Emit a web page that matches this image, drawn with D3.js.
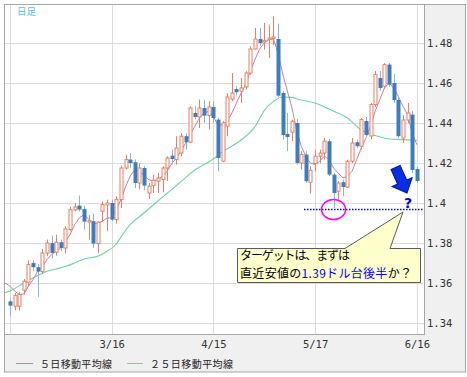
<!DOCTYPE html>
<html><head><meta charset="utf-8">
<script src="https://cdn.jsdelivr.net/npm/d3@7"></script>
<style>
html,body{margin:0;padding:0;background:#fff;}
svg{display:block;}
</style></head><body>
<svg id="c" width="467" height="377"></svg>
<script>
// ---- data (daily candles) ----
const dates = ["2/14","2/15","2/16","2/17","2/18","2/21","2/22","2/23","2/24","2/25","2/28",
"3/1","3/2","3/3","3/4","3/7","3/8","3/9","3/10","3/11","3/14","3/15",
"3/16","3/17","3/18","3/21","3/22","3/23","3/24","3/25","3/28","3/29","3/30","3/31",
"4/1","4/4","4/5","4/6","4/7","4/8","4/11","4/12","4/13","4/14",
"4/15","4/18","4/19","4/20","4/21","4/22","4/25","4/26","4/27","4/28","4/29",
"5/2","5/3","5/4","5/5","5/6","5/9","5/10","5/11","5/12","5/13","5/16",
"5/17","5/18","5/19","5/20","5/23","5/24","5/25","5/26","5/27","5/30","5/31",
"6/1","6/2","6/3","6/6","6/7","6/8","6/9","6/10","6/13","6/14","6/15","6/16"];
const open  = [1.3508,1.3484,1.3484,1.3564,1.3604,1.3700,1.3679,1.3657,1.3750,1.3800,1.3754,
1.3804,1.3775,1.3867,1.3965,1.3987,1.3970,1.3905,1.3909,1.3797,1.3959,1.3990,
1.4000,1.3917,1.4017,1.4175,1.4217,1.4204,1.4100,1.4175,1.4050,1.4087,1.4109,1.4117,
1.4175,1.4237,1.4217,1.4250,1.4334,1.4304,1.4450,1.4430,1.4475,1.4437,
1.4480,1.4417,1.4209,1.4384,1.4520,1.4570,1.4559,1.4580,1.4650,1.4770,1.4820,
1.4805,1.4817,1.4822,1.4820,1.4550,1.4345,1.4354,1.4400,1.4200,1.4242,1.4104,
1.4197,1.4234,1.4250,1.4309,1.4142,1.4059,1.4104,1.4080,1.4209,1.4304,1.4284,
1.4410,1.4335,1.4492,1.4625,1.4584,1.4692,1.4600,1.4515,1.4325,1.4415,1.4442,1.4170];
const high  = [1.3517,1.3550,1.3554,1.3620,1.3714,1.3714,1.3695,1.3770,1.3817,1.3837,1.3842,
1.3817,1.3884,1.3980,1.4000,1.4037,1.3987,1.3940,1.3947,1.3909,1.4009,1.4017,
1.4017,1.4034,1.4187,1.4242,1.4250,1.4217,1.4200,1.4184,1.4100,1.4142,1.4150,1.4184,
1.4234,1.4267,1.4334,1.4350,1.4347,1.4484,1.4484,1.4517,1.4517,1.4509,
1.4509,1.4425,1.4409,1.4550,1.4650,1.4584,1.4625,1.4659,1.4784,1.4875,1.4875,
1.4900,1.4892,1.4934,1.4897,1.4560,1.4450,1.4417,1.4420,1.4259,1.4259,1.4184,
1.4267,1.4267,1.4325,1.4320,1.4150,1.4109,1.4117,1.4217,1.4325,1.4317,1.4425,
1.4430,1.4500,1.4660,1.4660,1.4700,1.4700,1.4645,1.4525,1.4440,1.4500,1.4460,1.4180];
const low   = [1.3434,1.3464,1.3462,1.3542,1.3584,1.3659,1.3530,1.3647,1.3734,1.3724,1.3737,
1.3759,1.3747,1.3859,1.3959,1.3957,1.3867,1.3817,1.3775,1.3750,1.3904,1.3859,
1.3909,1.3897,1.3975,1.4167,1.4175,1.4075,1.4067,1.4064,1.4020,1.4050,1.4050,1.4054,
1.4110,1.4192,1.4192,1.4234,1.4267,1.4300,1.4417,1.4375,1.4400,1.4367,
1.4400,1.4159,1.4204,1.4334,1.4509,1.4537,1.4500,1.4567,1.4642,1.4767,1.4787,
1.4767,1.4725,1.4790,1.4530,1.4317,1.4260,1.4309,1.4192,1.4167,1.4100,1.4047,
1.4159,1.4200,1.4217,1.4134,1.3975,1.4017,1.4034,1.4075,1.4200,1.4275,1.4267,
1.4330,1.4320,1.4480,1.4560,1.4570,1.4580,1.4500,1.4325,1.4300,1.4400,1.4150,1.4100];
const close = [1.3487,1.3537,1.3542,1.3609,1.3692,1.3679,1.3657,1.3750,1.3800,1.3750,1.3804,
1.3775,1.3870,1.3967,1.3980,1.3967,1.3907,1.3912,1.3797,1.3904,1.3992,1.4000,
1.3917,1.4017,1.4175,1.4217,1.4200,1.4100,1.4175,1.4087,1.4084,1.4114,1.4125,1.4175,
1.4225,1.4220,1.4275,1.4334,1.4304,1.4475,1.4430,1.4475,1.4437,1.4480,
1.4425,1.4225,1.4400,1.4530,1.4550,1.4554,1.4575,1.4650,1.4770,1.4820,1.4800,
1.4812,1.4825,1.4830,1.4537,1.4340,1.4330,1.4409,1.4200,1.4242,1.4109,1.4164,
1.4234,1.4250,1.4309,1.4142,1.4050,1.4100,1.4080,1.4209,1.4300,1.4284,1.4417,
1.4340,1.4492,1.4642,1.4575,1.4692,1.4592,1.4515,1.4334,1.4415,1.4450,1.4165,1.4110];
// 5-day moving average, one value per date
const ma5Lead = 1.3604; // where the pink line enters at the left edge
const ma5 = [1.3584,1.3560,1.3542,1.3545,1.3584,1.3617,1.3659,1.3680,1.3717,1.3742,1.3759,
1.3775,1.3809,1.3842,1.3892,1.3925,1.3942,1.3920,1.3900,1.3897,1.3909,1.3925,
1.3925,1.3967,1.4017,1.4080,1.4134,1.4167,1.4159,1.4137,1.4117,1.4109,1.4117,1.4134,
1.4159,1.4197,1.4225,1.4259,1.4300,1.4342,1.4384,1.4425,1.4450,1.4459,
1.4434,1.4387,1.4392,1.4409,1.4450,1.4500,1.4550,1.4592,1.4659,1.4717,1.4770,
1.4800,1.4817,1.4820,1.4750,1.4645,1.4560,1.4475,1.4367,1.4284,1.4234,1.4200,
1.4192,1.4209,1.4234,1.4217,1.4175,1.4150,1.4125,1.4134,1.4159,1.4217,1.4275,
1.4325,1.4384,1.4459,1.4517,1.4575,1.4600,1.4575,1.4534,1.4484,1.4442,1.4350,1.4292];
// 25-day moving average (position in trading days, value)
const ma25Pos = [-1.3,0,3,6,8,10,12,14,16,19,21,23,24,26,29,32,35,37,40,44,46,50,53,55,57,59,61,63,66,70,73,76,79,82,85,88];
const ma25Val = [1.3550,1.3560,1.3600,1.3637,1.3659,1.3670,1.3682,1.3700,1.3720,1.3734,1.3759,1.3795,1.3830,1.3892,1.3950,1.4010,1.4068,1.4107,1.4165,1.4220,1.4257,1.4315,1.4382,1.4462,1.4508,1.4530,1.4528,1.4515,1.4500,1.4459,1.4425,1.4365,1.4337,1.4320,1.4317,1.4313];
const yTicks = [1.34,1.36,1.38,1.40,1.42,1.44,1.46,1.48];
const gridDates = ["2/14","3/16","4/15","5/17","6/16"];
const labelDates = ["3/16","4/15","5/17","6/16"];
const targetLevel = 1.3970;   // dotted target line
const lowDate = "5/23";       // circled low

// ---- layout ----
const svg = d3.select("#c");
const L = 4, R = 424, T = 4, B = 334;
const x = d3.scaleLinear().domain([-1.283, 89.556]).range([L, R]);
const y = d3.scaleLinear().domain([1.3345, 1.4995]).range([B, T]);
const di = d => dates.indexOf(d);

svg.append("rect").attr("x",4.5).attr("y",4.5).attr("width",461).attr("height",367.5)
  .attr("fill","#f0f0f0").attr("stroke","#a6a6a6");
svg.append("rect").attr("x",L+0.5).attr("y",T+0.5).attr("width",R-L-0.5).attr("height",B-T-0.5)
  .attr("fill","#fff");

svg.append("clipPath").attr("id","pc").append("rect")
  .attr("x",L+1).attr("y",T+1).attr("width",R-L-1).attr("height",B-T-1);

// grid
const gy = svg.append("g").attr("transform",`translate(${L},0)`)
  .call(d3.axisRight(y).tickValues(yTicks).tickSize(R-L).tickFormat(""));
gy.select(".domain").remove();
gy.selectAll("line").attr("stroke","#dcdcdc").attr("shape-rendering","crispEdges");
const gx = svg.append("g").attr("transform",`translate(0,${B})`)
  .call(d3.axisBottom(x).tickValues(gridDates.map(di)).tickSize(-(B-T)).tickFormat(""));
gx.select(".domain").remove();
gx.selectAll("line").attr("stroke","#dcdcdc").attr("shape-rendering","crispEdges");

// plot border
svg.append("path").attr("d",`M${L+0.5},${T+0.5}H${R+0.5}V${B+0.5}H${L+0.5}Z`)
  .attr("fill","none").attr("stroke","#a6a6a6").attr("shape-rendering","crispEdges");

const plot = svg.append("g").attr("clip-path","url(#pc)");

// moving averages
const line = d3.line().x(d=>x(d[0])).y(d=>y(d[1]));
plot.append("path").datum(ma25Pos.map((p,k)=>[p,ma25Val[k]]))
  .attr("d", line.curve(d3.curveMonotoneX)).attr("fill","none").attr("stroke","#6fd3a0").attr("stroke-width",1.1);
const line5 = d3.line().x(d=>x(d[0])).y(d=>y(d[1]));
plot.append("path").datum([[-1.283,ma5Lead]].concat(ma5.map((v,i)=>[i,v])))
  .attr("d", line5).attr("fill","none").attr("stroke","#c97f9f").attr("stroke-width",1);

// candles
const upC = "#e87f63", dnC = "#3d7cbd", dnW = "#86b4de";
dates.forEach((d,i)=>{
  const cx = Math.round(x(i));
  const up = close[i] >= open[i];
  const top = y(Math.max(open[i],close[i])), bot = y(Math.min(open[i],close[i]));
  plot.append("line").attr("x1",cx+0.5).attr("x2",cx+0.5).attr("y1",y(high[i])).attr("y2",y(low[i]))
    .attr("stroke", up?upC:dnW).attr("stroke-width",1);
  if (up) {
    plot.append("rect").attr("x",cx-1).attr("y",top).attr("width",3).attr("height",Math.max(1,bot-top))
      .attr("fill","#fff").attr("stroke",upC).attr("stroke-width",1);
  } else {
    plot.append("rect").attr("x",cx-1.5).attr("y",top).attr("width",4).attr("height",Math.max(1,bot-top))
      .attr("fill",dnC);
  }
});

// y labels
const ya = svg.append("g").attr("transform",`translate(${R},0)`)
  .call(d3.axisRight(y).tickValues(yTicks).tickSize(0).tickPadding(3).tickFormat(d3.format(".2f")));
ya.select(".domain").remove();
ya.selectAll("text").attr("font-family","DejaVu Sans Mono").attr("font-size",10.5).attr("fill","#333")
  .text(d => d3.format(".2f")(d).replace(/^(\d\.\d)0$/,"$1"));
// x labels
const xa = svg.append("g").attr("transform",`translate(0,${B})`)
  .call(d3.axisBottom(x).tickValues(labelDates.map(di)).tickSize(0).tickPadding(6.5).tickFormat(i=>dates[i]));
xa.select(".domain").remove();
xa.selectAll("text").attr("font-family","DejaVu Sans Mono").attr("font-size",10.5).attr("fill","#333");

// title
svg.append("text").attr("x",17).attr("y",15).attr("font-family","Noto Sans CJK JP").attr("font-size",9.5)
  .attr("fill","#55bde8").text("日足");

// legend
svg.append("line").attr("x1",16).attr("x2",33).attr("y1",363.5).attr("y2",363.5).attr("stroke","#c97f9f");
svg.append("text").attr("x",40).attr("y",367.5).attr("font-family","Noto Sans CJK JP").attr("font-size",10)
  .attr("fill","#222").attr("textLength",72).attr("lengthAdjust","spacing").text("５日移動平均線");
svg.append("line").attr("x1",127).attr("x2",143).attr("y1",363.5).attr("y2",363.5).attr("stroke","#6fd3a0");
svg.append("text").attr("x",150).attr("y",367.5).attr("font-family","Noto Sans CJK JP").attr("font-size",10)
  .attr("fill","#222").attr("textLength",83).attr("lengthAdjust","spacing").text("２５日移動平均線");

// annotations
const ty = Math.round(y(targetLevel)) + 0.5;
svg.append("line").attr("x1",304).attr("x2",R).attr("y1",ty).attr("y2",ty)
  .attr("stroke","#0000ff").attr("stroke-width",1.5).attr("stroke-dasharray","1.5,1.5");
svg.append("ellipse").attr("cx",x(di(lowDate))).attr("cy",ty).attr("rx",12).attr("ry",10)
  .attr("fill","none").attr("stroke","#ff00ff").attr("stroke-width",1.5);
svg.append("text").attr("x",408).attr("y",208).attr("text-anchor","middle").attr("font-family","DejaVu Sans")
  .attr("font-weight","bold").attr("font-size",14).attr("fill","#0000ee").text("?");
// arrow
svg.append("path").attr("transform","translate(407,193) rotate(-24)")
  .attr("d","M0,0 L-11,-12 L-5,-12 L-5,-28 L5,-28 L5,-12 L11,-12 Z")
  .attr("fill","#0a2ee8").attr("stroke","#001a80").attr("stroke-width",1);

// callout
svg.append("path").attr("d","M237.5,248.5 H345 L403,212 L390,248.5 H420.5 V282.5 H237.5 Z")
  .attr("fill","#ffffcc").attr("stroke","#5a5a5a").attr("stroke-width",1);
svg.append("text").attr("x",240).attr("y",259.5).attr("font-family","Noto Sans CJK JP").attr("font-size",12)
  .attr("fill","#000").attr("textLength",110).attr("lengthAdjust","spacing").text("ターゲットは、まずは");
const t2 = svg.append("text").attr("x",240).attr("y",278).attr("font-family","Noto Sans CJK JP").attr("font-size",12)
  .attr("fill","#000").attr("textLength",172).attr("lengthAdjust","spacing");
t2.append("tspan").text("直近安値の");
t2.append("tspan").attr("fill","#0000ff").text("1.39ドル台後半");
t2.append("tspan").text("か？");
</script>
</body></html>
